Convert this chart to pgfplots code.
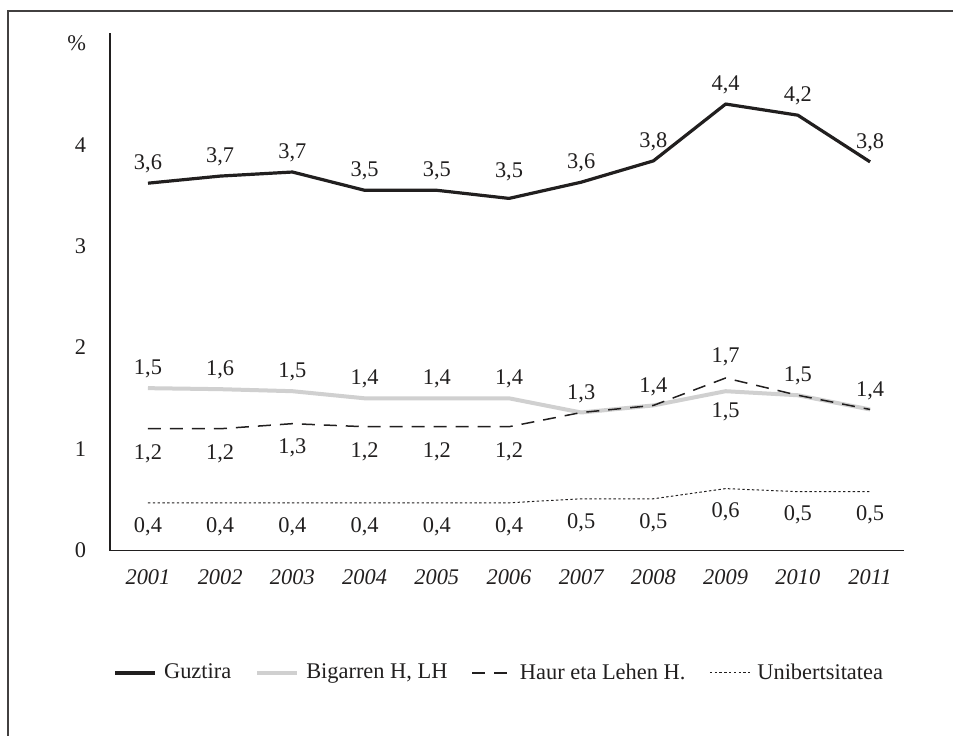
\documentclass[border=0pt]{standalone}
\usepackage{pgfplots}
\pgfplotsset{compat=1.18}
\usepackage{fontspec}
\setmainfont{Liberation Serif}
\definecolor{ink}{rgb}{0.13,0.12,0.12}
\definecolor{lgray}{RGB}{208,208,208}
\newcommand{\cf}{\fontsize{11.2bp}{13bp}\selectfont}
\begin{document}
\begin{tikzpicture}
\path[use as bounding box] (0,0) rectangle (476.5bp,-368bp);
\draw[line width=1bp, color=ink!85] (4bp,-380bp) -- (4bp,-5.5bp) -- (490bp,-5.5bp);
\begin{axis}[
  at={(55bp,-275.25bp)}, anchor=south west,
  scale only axis, width=397bp, height=258.75bp,
  xmin=2000.474, xmax=2011.47, ymin=0, ymax=5.1,
  axis x line*=bottom, axis y line*=left,
  axis line style={line width=0.6bp, color=ink},
  xtick={2001,...,2011},
  ytick={0,1,2,3,4,5}, yticklabels={0,1,2,3,4,\%},
  major tick length=0pt,
  /pgf/number format/assume math mode=true,
  /pgf/number format/1000 sep={},
  tick label style={font=\cf, text=ink},
  xticklabel style={font=\cf\itshape, yshift=-6bp},
  yticklabel style={xshift=-8.5bp},
  legend columns=4,
  legend style={at={(0.4924,-0.2367)}, anchor=center, draw=none, fill=none,
    font=\cf, text=ink, nodes={inner sep=2.5bp},
    /tikz/every even column/.append style={column sep=9.5bp},
    /tikz/every odd column/.append style={column sep=1bp}},
  legend image code/.code={\draw[#1] (0bp,0bp) -- (20bp,0bp);},
  nodes near coords style={font=\cf, text=ink, anchor=center},
  clip=false,
]
\addplot[color=ink, line width=1.6bp, line join=round, mark=none] coordinates {
 (2001,3.62) (2002,3.69) (2003,3.73) (2004,3.55) (2005,3.55) (2006,3.47)
 (2007,3.63) (2008,3.84) (2009,4.40) (2010,4.29) (2011,3.83)};
\addlegendentry{Guztira}
\addplot[color=lgray, line width=2bp, line join=round, mark=none] coordinates {
 (2001,1.60) (2002,1.59) (2003,1.57) (2004,1.50) (2005,1.50) (2006,1.50)
 (2007,1.36) (2008,1.43) (2009,1.57) (2010,1.53) (2011,1.39)};
\addlegendentry{Bigarren H, LH}
\addplot[color=ink, line width=0.75bp, dash pattern=on 6.5bp off 4.5bp, mark=none] coordinates {
 (2001,1.20) (2002,1.20) (2003,1.25) (2004,1.22) (2005,1.22) (2006,1.22)
 (2007,1.36) (2008,1.43) (2009,1.70) (2010,1.53) (2011,1.39)};
\addlegendentry{Haur eta Lehen H.}
\addplot[color=ink, line width=0.5bp, dash pattern=on 1.2bp off 1.2bp, mark=none] coordinates {
 (2001,0.47) (2002,0.47) (2003,0.47) (2004,0.47) (2005,0.47) (2006,0.47)
 (2007,0.51) (2008,0.51) (2009,0.61) (2010,0.58) (2011,0.58)};
\addlegendentry{Unibertsitatea}
% labels
\addplot[draw=none, mark=none, forget plot, nodes near coords, point meta=explicit symbolic,
  nodes near coords style={yshift=9.5bp}] coordinates {
 (2001,3.62)[{3,6}] (2002,3.69)[{3,7}] (2003,3.73)[{3,7}] (2004,3.55)[{3,5}] (2005,3.55)[{3,5}]
 (2007,3.63)[{3,6}] (2008,3.84)[{3,8}] (2009,4.40)[{4,4}] (2010,4.29)[{4,2}] (2011,3.83)[{3,8}]};
\addplot[draw=none, mark=none, forget plot, nodes near coords, point meta=explicit symbolic,
  nodes near coords style={yshift=13.5bp}] coordinates {(2006,3.47)[{3,5}]};
\addplot[draw=none, mark=none, forget plot, nodes near coords, point meta=explicit symbolic,
  nodes near coords style={yshift=9.5bp}] coordinates {
 (2001,1.60)[{1,5}] (2002,1.59)[{1,6}] (2003,1.57)[{1,5}] (2004,1.50)[{1,4}] (2005,1.50)[{1,4}] (2006,1.50)[{1,4}]
 (2007,1.36)[{1,3}] (2008,1.43)[{1,4}] (2010,1.53)[{1,5}] (2011,1.39)[{1,4}]};
\addplot[draw=none, mark=none, forget plot, nodes near coords, point meta=explicit symbolic,
  nodes near coords style={yshift=-10.3bp}] coordinates {(2009,1.57)[{1,5}]};
\addplot[draw=none, mark=none, forget plot, nodes near coords, point meta=explicit symbolic,
  nodes near coords style={yshift=10.5bp}] coordinates {(2009,1.70)[{1,7}]};
\addplot[draw=none, mark=none, forget plot, nodes near coords, point meta=explicit symbolic,
  nodes near coords style={yshift=-12.3bp}] coordinates {
 (2001,1.20)[{1,2}] (2002,1.20)[{1,2}] (2003,1.25)[{1,3}] (2004,1.22)[{1,2}] (2005,1.22)[{1,2}] (2006,1.22)[{1,2}]};
\addplot[draw=none, mark=none, forget plot, nodes near coords, point meta=explicit symbolic,
  nodes near coords style={yshift=-11.8bp}] coordinates {
 (2001,0.47)[{0,4}] (2002,0.47)[{0,4}] (2003,0.47)[{0,4}] (2004,0.47)[{0,4}] (2005,0.47)[{0,4}] (2006,0.47)[{0,4}]
 (2007,0.51)[{0,5}] (2008,0.51)[{0,5}] (2009,0.61)[{0,6}] (2010,0.58)[{0,5}] (2011,0.58)[{0,5}]};
\end{axis}
\end{tikzpicture}
\end{document}
